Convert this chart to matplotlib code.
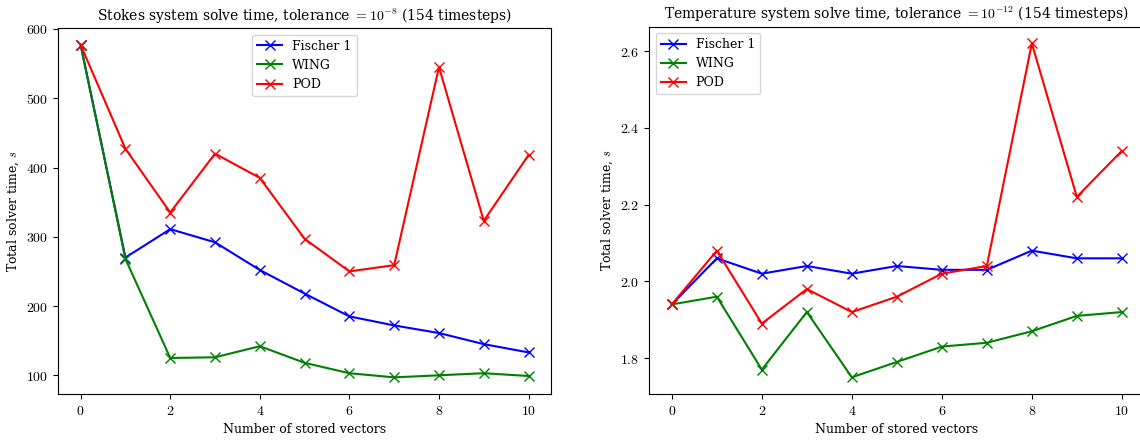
import matplotlib
matplotlib.use('Agg')
import matplotlib.pyplot as plt
from matplotlib.ticker import FuncFormatter

plt.rcParams['font.family'] = ['DejaVu Serif']
plt.rcParams['mathtext.fontset'] = 'cm'

# ========== 数据 ==========
n_vectors = [0, 1, 2, 3, 4, 5, 6, 7, 8, 9, 10]

stokes_fischer = [577, 270, 311, 292, 252, 218, 185, 172, 161, 145, 133]
stokes_wing = [577, 268, 125, 126, 142, 118, 103, 97, 100, 103, 99]
stokes_pod = [577, 427, 335, 420, 385, 297, 250, 259, 545, 323, 418]

temp_fischer = [1.94, 2.06, 2.02, 2.04, 2.02, 2.04, 2.03, 2.03, 2.08, 2.06, 2.06]
temp_wing = [1.94, 1.96, 1.77, 1.92, 1.75, 1.79, 1.83, 1.84, 1.87, 1.91, 1.92]
temp_pod = [1.94, 2.08, 1.89, 1.98, 1.92, 1.96, 2.02, 2.04, 2.62, 2.22, 2.34]

labels = ['Fischer 1', 'WING', 'POD']
colors = ['blue', 'green', 'red']

fig = plt.figure(figsize=(11.4, 4.42), dpi=100)
ax1 = fig.add_axes([0.0511, 0.1086, 0.4322, 0.8274])
ax2 = fig.add_axes([0.5696, 0.1086, 0.4342, 0.8310])


def draw(ax, series, title, legend_loc, fmt):
    for ys, lab, c in zip(series, labels, colors):
        ax.plot(n_vectors, ys, color=c, marker='x', markersize=7, linewidth=1.5, label=lab)
    ax.set_title(title, fontsize=10)
    ax.set_xlabel('Number of stored vectors', fontsize=9)
    ax.set_ylabel('Total solver time, $s$', fontsize=9)
    ax.set_xticks([0, 2, 4, 6, 8, 10])
    ax.xaxis.set_major_formatter(FuncFormatter(lambda v, p: f'${v:.0f}$'))
    ax.yaxis.set_major_formatter(FuncFormatter(lambda v, p: '$' + (fmt % v) + '$'))
    ax.tick_params(labelsize=10)
    ax.legend(loc=legend_loc, fontsize=9)


draw(ax1, [stokes_fischer, stokes_wing, stokes_pod],
     'Stokes system solve time, tolerance $= 10^{-8}$ (154 timesteps)', 'upper center', '%.0f')
draw(ax2, [temp_fischer, temp_wing, temp_pod],
     'Temperature system solve time, tolerance $= 10^{-12}$ (154 timesteps)', 'upper left', '%.1f')
ax2.set_yticks([1.8, 2.0, 2.2, 2.4, 2.6])

plt.savefig('out.png', dpi=100)
